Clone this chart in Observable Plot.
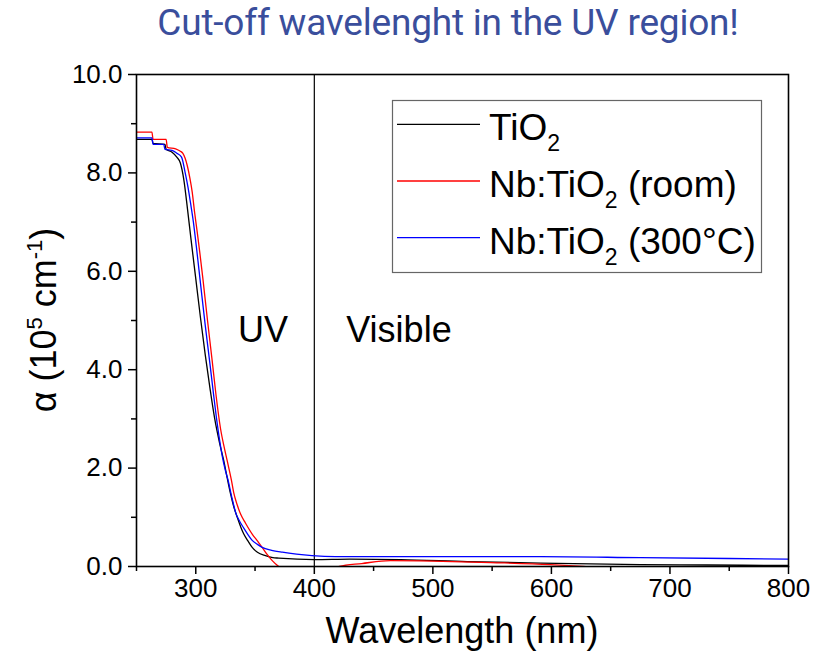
<!DOCTYPE html>
<html><head><meta charset="utf-8">
<script src="https://cdn.jsdelivr.net/npm/d3@7"></script>
<script src="https://cdn.jsdelivr.net/npm/@observablehq/plot@0.6"></script>
<style>
body{margin:0;background:#fff;font-family:"Liberation Sans",Arial,sans-serif;}
#title{height:50px;line-height:46px;width:750px;margin-left:73px;text-align:center;font-family:Roboto,sans-serif;font-size:37px;color:#3a4e9c;white-space:nowrap;letter-spacing:-0.2px;}
#chart svg{display:block;}
</style></head><body>
<div id="title">Cut-off wavelenght in the UV region!</div>
<div id="chart"></div>
<script>
// ---- data ----
const seriesNames = ["TiO2", "Nb:TiO2 (room)", "Nb:TiO2 (300°C)"];
const seriesColors = ["#000000", "#ff0000", "#0000ff"];

const tio2Wl = [250,263,264,274,275,280,284,287,290,293,296,300,304,308,312,316,320,323.6,326.5,329.3,332,335,338,340.5,344,347.6,352,358.8,365,370,400,430,473,529,591,675,731,800];
const tio2A  = [8.68,8.68,8.60,8.58,8.48,8.42,8.32,8.20,7.85,7.27,6.65,5.85,5.05,4.30,3.62,3.00,2.52,2.15,1.80,1.48,1.22,1.00,0.80,0.66,0.52,0.39,0.29,0.22,0.18,0.17,0.14,0.15,0.14,0.10,0.07,0.04,0.03,0.02];

const roomWl = [250,263,264,275,276,283,287,289,292.8,295,297,299,301.2,303.4,306,310,313.8,317,320.9,324,326.5,330.1,332,335,337.7,342,347.6,352,356,360,364.5,370,380,400,415,421,440,464,500,549,599,627,660,800];
const roomA  = [8.83,8.83,8.68,8.68,8.52,8.49,8.44,8.40,8.15,7.90,7.61,7.20,6.80,6.38,5.85,4.98,4.19,3.50,2.80,2.42,2.15,1.75,1.50,1.25,1.07,0.88,0.66,0.52,0.39,0.25,0.12,0.00,-0.10,-0.15,-0.05,0.00,0.06,0.12,0.11,0.08,0.04,0.00,-0.04,-0.05];

const hotWl = [250,263,264,273,274,280,284,288,291,293.5,295.5,298,300.5,304,308,311.6,315,318,322.3,325,327.3,330,334,337,340.5,344,347.6,352,356,364,373,385,398,418,473,591,675,800];
const hotA  = [8.71,8.71,8.58,8.58,8.48,8.46,8.40,8.32,8.01,7.70,7.40,7.00,6.50,5.75,4.90,4.19,3.50,2.92,2.25,1.95,1.75,1.45,1.07,0.92,0.78,0.65,0.53,0.45,0.39,0.33,0.29,0.25,0.22,0.20,0.20,0.20,0.18,0.15];

const xMajor = [300,400,500,600,700,800];
const xMinor = [250,350,450,550,650,750];
const yMajor = [0,2,4,6,8,10];
const yMinor = [1,3,5,7,9];
const regionLabels = [{wl:356.7, a:4.8, t:"UV"}, {wl:471.4, a:4.8, t:"Visible"}];
const boundary = [400];

const rows = [];
[[tio2Wl,tio2A],[roomWl,roomA],[hotWl,hotA]].forEach(([w,a],i)=>{
  w.forEach((x,j)=>rows.push({series:seriesNames[i], wl:x, a:a[j]}));
});

const plot = Plot.plot({
  width: 823, height: 605,
  marginLeft: 136, marginRight: 35, marginTop: 24, marginBottom: 89,
  x: {domain:[250,800]},
  y: {domain:[0,10]},
  color: {domain: seriesNames, range: seriesColors},
  style: {fontFamily:"'Liberation Sans', Arial, sans-serif", fontSize:"26px", color:"#000", background:"#fff", overflow:"visible"},
  marks: [
    Plot.axisX({ticks:xMajor, tickSize:8, tickPadding:4, tickFormat:d=>String(d), label:null, strokeWidth:1.5, fontSize:26}),
    Plot.axisX({ticks:xMinor, tickSize:5, tickFormat:()=>"", label:null, strokeWidth:1.5}),
    Plot.axisY({ticks:yMajor, tickSize:8, tickPadding:6, tickFormat:d=>d.toFixed(1), label:null, strokeWidth:1.5, fontSize:26}),
    Plot.axisY({ticks:yMinor, tickSize:5, tickFormat:()=>"", label:null, strokeWidth:1.5}),
    Plot.ruleX(boundary, {stroke:"#000", strokeWidth:1.2}),
    Plot.line(rows, {x:"wl", y:"a", z:"series", stroke:"series", strokeWidth:1.3, clip:true, curve:"monotone-x"}),
    Plot.text(regionLabels, {x:"wl", y:"a", text:"t", fontSize:36, fill:"#000", textAnchor:"middle", lineAnchor:"middle"}),
    Plot.frame({stroke:"#000", strokeWidth:1.6})
  ]
});
document.getElementById("chart").appendChild(plot);

const svg = d3.select(plot);
const FONT = "'Liberation Sans', Arial, sans-serif";
// legend
const lg = svg.append("g").attr("font-family",FONT).attr("font-size",37).attr("text-anchor","start");
lg.append("rect").attr("x",392.5).attr("y",50.5).attr("width",369).attr("height",172).attr("fill","#fff").attr("stroke","#666").attr("stroke-width",1.2);
const legendY = [74.3,131,187.7];
const legendParts = [["TiO","2",""],["Nb:TiO","2"," (room)"],["Nb:TiO","2"," (300°C)"]];
legendParts.forEach((p,i)=>{
  lg.append("line").attr("x1",397).attr("x2",480).attr("y1",legendY[i]).attr("y2",legendY[i]).attr("stroke",seriesColors[i]).attr("stroke-width",1.3);
  const t = lg.append("text").attr("x",489).attr("y",legendY[i]+16).attr("fill","#000").attr("text-anchor","start");
  t.append("tspan").text(p[0]);
  t.append("tspan").attr("font-size",23).attr("dy",11).text(p[1]);
  t.append("tspan").attr("dy",-11).text(p[2]);
});
// axis titles
svg.append("text").attr("x",462).attr("y",593).attr("text-anchor","middle")
  .attr("font-family",FONT).attr("font-size",36).text("Wavelength (nm)");
const yt = svg.append("text").attr("transform","translate(56,270) rotate(-90)").attr("text-anchor","middle")
  .attr("font-family",FONT).attr("font-size",36);
yt.append("tspan").text("α (10");
yt.append("tspan").attr("font-size",22).attr("dy",-14).text("5");
yt.append("tspan").attr("dy",14).text(" cm");
yt.append("tspan").attr("font-size",22).attr("dy",-14).text("-1");
yt.append("tspan").attr("dy",14).text(")");
</script>
</body></html>
